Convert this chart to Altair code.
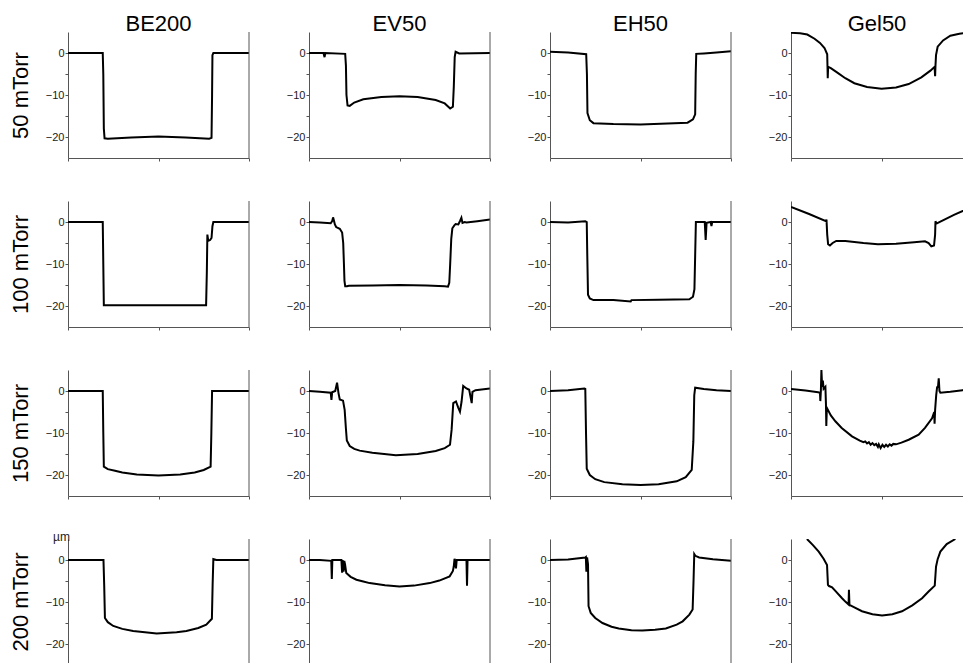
import altair as alt
import pandas as pd

FONT = "Liberation Sans"
AXIS_GRAY = "#555555"

samples = ["BE200", "EV50", "EH50", "Gel50"]
pressures = ["50 mTorr", "100 mTorr", "150 mTorr", "200 mTorr"]
unit_label = ["µm"]

y_tick_values = [-25, -20, -15, -10, -5, 0, 5]
x_tick_values = [0, 50, 100]

# ---- profiles: (position, depth in µm) ----
BE200_50 = [(0, 0), (19.2, 0), (19.5, -5), (19.8, -18), (20.2, -20.3), (22, -20.4), (35, -20.1),
            (50, -19.9), (65, -20.1), (78, -20.4), (79.3, -20.2), (79.6, -10), (79.8, -0.5),
            (80.3, 0), (100, 0)]
EV50_50 = [(0, 0), (8, 0), (8.6, -1), (9, 0), (20, -0.2), (20.4, -3), (20.7, -10), (21.3, -12.5),
           (22.5, -12.6), (25, -11.8), (30, -11), (40, -10.5), (50, -10.3), (60, -10.5), (70, -11.2),
           (75, -12), (78, -13.2), (79.5, -12.8), (80, -8), (80.5, -1), (81, 0.3), (83, -0.1), (100, 0)]
EH50_50 = [(0, 0.3), (10, 0.1), (20, -0.3), (20.4, -5), (20.7, -14.3), (22, -16), (24, -16.7),
           (35, -16.9), (50, -17), (65, -16.8), (76, -16.6), (79, -15.8), (80.2, -14.6), (80.5, -5),
           (80.8, -0.2), (85, -0.1), (92, 0.1), (100, 0.4)]
Gel50_50 = [(0, 4.8), (5, 4.7), (9, 4.4), (13, 3.4), (16, 2.4), (18.5, 1.2), (20, -0.3), (20.3, -6),
            (20.5, -3.3), (22, -3.6), (26, -4.8), (30, -6), (35, -7.2), (42, -8.1), (50, -8.5),
            (58, -8.2), (65, -7.4), (72, -5.8), (77, -4.2), (79.3, -3.3), (79.6, -5.5), (79.8, -3),
            (80.1, -0.5), (81, 1.5), (84, 3), (88, 4.1), (93, 4.6), (100, 5)]

BE200_100 = [(0, 0), (19.2, 0), (19.5, -10), (19.8, -19.8), (25, -19.8), (50, -19.8), (76.3, -19.8),
             (76.7, -12), (77, -3), (77.5, -4.5), (78.5, -4.3), (79.3, -3.8), (79.8, -1), (80.3, 0),
             (100, 0)]
EV50_100 = [(0, 0), (6, -0.1), (12, -0.3), (12.8, 0.2), (13.3, 1.1), (13.8, 0.3), (14.3, -0.6),
            (15, -1.2), (17, -1.6), (18.3, -2.5), (18.9, -5), (19.3, -10), (19.6, -14), (20, -15.3),
            (21, -15.3), (22, -15.2), (35, -15.1), (50, -15.0), (65, -15.1), (75, -15.3),
            (76.8, -15.4), (77.5, -14.5), (78, -10), (78.6, -4), (79.2, -1.5), (80.3, -0.8),
            (81, -0.5), (82.5, -0.6), (83.5, 0.3), (84.2, 1.0), (84.8, -0.2), (86, 0), (87, -0.1),
            (93, 0.2), (100, 0.6)]
EH50_100 = [(0, 0), (10, -0.1), (19.5, 0.2), (20.3, 0), (20.6, -8), (21, -17.3), (22, -18.2),
            (24, -18.6), (35, -18.6), (44.6, -18.9), (45, -18.6), (60, -18.5), (77, -18.4),
            (79, -17.8), (79.8, -16), (80.2, -8), (80.6, 0), (85.5, 0), (86, -4.3), (86.5, -0.2),
            (88.8, 0), (89.2, -1), (89.6, 0), (100, 0)]
Gel50_100 = [(0, 3.6), (10, 1.9), (19.3, 0.2), (19.6, 0.6), (20, -3), (20.5, -5.3), (21.5, -5.6),
             (23, -5), (25, -4.5), (30, -4.5), (40, -5), (48, -5.3), (58, -5.2), (68, -4.8),
             (74, -4.6), (76, -5), (77.5, -5.8), (79, -5.6), (79.6, -3), (79.8, 0.2), (80.3, -0.4),
             (90, 1.7), (100, 3.6)]

BE200_150 = [(0, 0), (19.2, 0), (19.5, -10), (19.8, -18), (22, -18.6), (26, -19), (30, -19.4),
             (38, -19.9), (50, -20.1), (62, -19.9), (70, -19.4), (75, -18.8), (78.8, -18),
             (79.2, -10), (79.6, 0), (100, 0)]
EV50_150 = [(0, 0), (6, -0.2), (12, -0.4), (12.4, -2.1), (12.8, -0.3), (14.5, 0), (15.5, 2),
            (16.3, -0.5), (17, -2), (18.8, -2.3), (19.7, -4.5), (20.4, -9), (20.9, -11.8),
            (22.5, -13.1), (25, -13.8), (28, -14.2), (35, -14.7), (48, -15.3), (60, -15),
            (70, -14.3), (75, -13.6), (77.9, -12.8), (78.8, -9.2), (79.7, -2.9), (81.2, -2.5),
            (82.5, -4), (83.4, -4.9), (84.3, -2.5), (85.2, 1.2), (87, 0.6), (88.5, 0.3),
            (89.9, -2.9), (90.3, -0.2), (92, 0.2), (100, 0.6)]
EH50_150 = [(0, 0), (10, 0.2), (19, 0.6), (19.5, 0.5), (19.9, -10), (20.3, -18.5), (22, -20),
            (25, -21), (30, -21.7), (40, -22.2), (50, -22.4), (60, -22.2), (70, -21.5),
            (75, -20.5), (78.3, -18.8), (79.2, -12), (79.7, -1), (80.2, 0.8), (85, 0.5),
            (92, 0.2), (100, 0)]
Gel50_150 = [(0, 0.5), (8, 0.1), (15, -0.3), (16, -0.4), (16.2, -2.4), (16.5, 0), (16.8, 5),
             (17.2, 1), (17.6, 2.5), (18, 0.5), (19, 1), (19.3, -3), (19.5, -8.3), (19.8, -4),
             (20.4, -4.5), (22, -5.8), (24.5, -7.2), (28, -8.8), (33.7, -10.8), (38, -11.8),
             (40, -12.2), (41, -12.0), (42, -12.5), (43, -12.2), (44, -12.8), (45, -12.4),
             (46, -12.9), (47, -12.6), (48, -13.3), (48.5, -12.7), (49.5, -13.6), (50.5, -12.8),
             (51.5, -13.3), (52.5, -12.8), (53.5, -13.2), (54.5, -12.7), (55.5, -13.0),
             (56.5, -12.6), (58, -12.7), (61, -12.3), (65, -11.6), (70.5, -10.4), (74, -8.8),
             (77.9, -6.5), (79.1, -5), (79.3, -7.8), (79.6, -4.5), (80.2, -1), (80.7, 0.9),
             (81.2, 1), (81.6, 3), (82, 0), (82.5, -0.4), (88, -0.2), (94.8, 0.2), (100, 0.5)]

BE200_200 = [(0, 0), (19.6, 0), (20, -6), (20.4, -13.8), (22, -14.8), (25, -15.7), (30, -16.4),
             (36, -16.9), (49, -17.5), (60, -17.2), (65.4, -16.9), (72, -16.2), (76.4, -15.4),
             (79.5, -14), (79.9, -6), (80.3, 0.2), (82, 0), (100, 0)]
EV50_200 = [(0, 0), (6, 0), (12.3, -0.2), (12.6, -4.5), (12.9, 0), (17.9, 0), (18.3, -3), (18.6, 0),
            (19.1, -2.8), (19.5, -0.2), (19.9, -1), (20.6, -3.1), (23, -4), (26.2, -4.7), (30, -5.1),
            (33.5, -5.5), (42, -6), (50, -6.3), (58, -6.1), (66.7, -5.5), (72, -4.9), (77.7, -3.9),
            (79.5, -2.6), (80, -1.5), (80.4, 0.3), (80.7, -0.5), (81.2, -2), (81.6, 0), (87, 0),
            (87.3, -6.1), (87.6, 0), (100, 0)]
EH50_200 = [(0, 0), (10, 0.1), (19.5, 0.6), (19.8, 0.7), (20.1, -2.8), (20.5, 0.6), (21, -1),
            (21.3, -11), (22.5, -12.6), (25, -13.8), (29, -15), (34, -15.9), (38, -16.3),
            (45, -16.7), (51, -16.8), (58, -16.6), (64, -16.3), (70, -15.4), (73.3, -14.6),
            (77, -13), (78.8, -11.8), (79.3, -5), (79.7, 1.4), (80.3, 1.0), (82.4, 0.6),
            (90, 0.2), (100, -0.2)]
Gel50_200 = [(8.8, 5), (12, 3.6), (15.3, 2), (18, 0.3), (19.9, -1.2), (20.2, -4), (20.4, -5.9),
             (21, -6.2), (22.7, -6.5), (25, -7.6), (28.2, -9.1), (30, -9.9), (31.8, -10.6),
             (32, -7.1), (32.3, -10.7), (35, -11.3), (39.2, -12.2), (45, -12.9), (50.3, -13.2),
             (56, -12.9), (61.3, -12.2), (67, -10.8), (72.4, -9.1), (76, -7.5), (79.4, -6.1),
             (79.8, -3.5), (80.1, -1.6), (81, 0.2), (82.5, 2), (86, 3.8), (90.8, 5)]

profiles = {
    ("BE200", "50 mTorr"): BE200_50, ("EV50", "50 mTorr"): EV50_50,
    ("EH50", "50 mTorr"): EH50_50, ("Gel50", "50 mTorr"): Gel50_50,
    ("BE200", "100 mTorr"): BE200_100, ("EV50", "100 mTorr"): EV50_100,
    ("EH50", "100 mTorr"): EH50_100, ("Gel50", "100 mTorr"): Gel50_100,
    ("BE200", "150 mTorr"): BE200_150, ("EV50", "150 mTorr"): EV50_150,
    ("EH50", "150 mTorr"): EH50_150, ("Gel50", "150 mTorr"): Gel50_150,
    ("BE200", "200 mTorr"): BE200_200, ("EV50", "200 mTorr"): EV50_200,
    ("EH50", "200 mTorr"): EH50_200, ("Gel50", "200 mTorr"): Gel50_200,
}

PW, PH = 181, 126


def panel(r, c):
    sample, pressure = samples[c], pressures[r]
    pts = profiles[(sample, pressure)]
    df = pd.DataFrame(pts, columns=["x", "y"])
    df["i"] = range(len(df))
    last_col = c == len(samples) - 1
    last_row = r == len(pressures) - 1
    xdom = [0, 95] if last_col else [0, 100]
    w = 172 if last_col else PW
    ydom = [-24.76, 5] if last_row else [-25, 5]
    h = 125 if last_row else PH
    yt = [v for v in y_tick_values if ydom[0] <= v <= ydom[1] and v not in (5, -25)]
    xt = [v for v in x_tick_values if xdom[0] <= v <= xdom[1]]

    if last_row:
        xaxis = None
    else:
        xaxis = alt.Axis(values=xt, labels=False, ticks=True, tickSize=3, title=None,
                         grid=False, domainColor=AXIS_GRAY, tickColor=AXIS_GRAY)
    yaxis_kw = dict(values=yt, tickSize=3, labelPadding=1, grid=False,
                    labelExpr="datum.value % 10 == 0 ? datum.label : ''",
                    domainColor=AXIS_GRAY, tickColor=AXIS_GRAY, labelColor="#1a1a1a",
                    labelFont=FONT, labelFontSize=11)
    if c == 0:
        yaxis = alt.Axis(title=pressure, titleFont=FONT, titleFontSize=22,
                         titleFontWeight="normal", titleColor="black", titlePadding=13,
                         **yaxis_kw)
    else:
        yaxis = alt.Axis(title=None, **yaxis_kw)

    line = alt.Chart(df).mark_line(color="black", strokeWidth=2, clip=True).encode(
        x=alt.X("x:Q", scale=alt.Scale(domain=xdom, nice=False, zero=False), axis=xaxis),
        y=alt.Y("y:Q", scale=alt.Scale(domain=ydom, nice=False, zero=False), axis=yaxis),
        order="i:Q",
    )
    layers = [line]
    if not last_col:
        edge = alt.Chart(pd.DataFrame({"k": [1]})).mark_rule(
            color=AXIS_GRAY, strokeWidth=1).encode(
            x=alt.value(w), y=alt.value(0), y2=alt.value(h))
        layers.append(edge)
    if last_row and c == 0:
        unit = alt.Chart(pd.DataFrame({"t": unit_label})).mark_text(
            align="right", baseline="alphabetic", font=FONT, fontSize=12, color="#222222").encode(
            text="t:N", x=alt.value(2), y=alt.value(2))
        layers.append(unit)

    props = dict(width=w, height=h)
    if r == 0:
        props["title"] = alt.TitleParams(sample, font=FONT, fontSize=22, fontWeight="normal",
                                         color="black", anchor="middle", baseline="alphabetic",
                                         offset=-21)
    return alt.layer(*layers).properties(**props)


panels = [panel(r, c) for r in range(len(pressures)) for c in range(len(samples))]

chart = alt.concat(*panels, columns=4, spacing={"row": 43, "column": 60},
                   bounds="flush").properties(
    padding={"left": 9, "top": 12, "right": 0, "bottom": 0},
    background="white",
).configure_view(stroke=None)

chart.save("out.html", embed_options={"renderer": "svg", "actions": False})
